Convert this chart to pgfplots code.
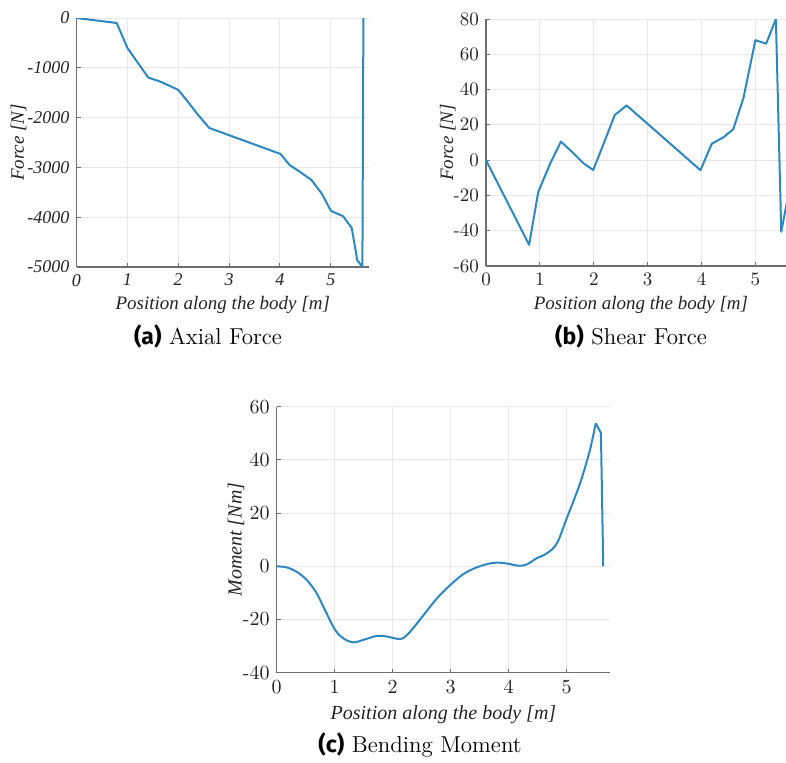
\documentclass[border=0pt]{standalone}
\usepackage{pgfplots}
\pgfplotsset{compat=1.18}
\usepackage{fontspec}
\newfontfamily\tnr{Liberation Serif}
\newfontfamily\capsf{Fira Sans}
\definecolor{lineblue}{RGB}{45,135,192}
\definecolor{axgray}{RGB}{110,110,110}
\definecolor{gridgray}{RGB}{232,232,232}
\definecolor{txt}{RGB}{35,35,35}

\pgfplotsset{
  body/.style={
    scale only axis, anchor=south west,
    axis lines*=left,
    axis line style={axgray, line width=0.6pt},
    xmin=0, xmax=5.75,
    xtick={0,1,2,3,4,5},
    grid=major,
    grid style={gridgray, line width=0.5pt},
    tick align=inside,
    major tick length=2pt,
    tick style={axgray, line width=0.5pt},
    scaled y ticks=false,
    /pgf/number format/assume math mode=true,
    /pgf/number format/1000 sep={},
    ticklabel style={txt},
    label style={txt},
    xlabel={Position along the body [m]},
    clip=true,
  },
  curve/.style={lineblue, line width=1pt, line join=round, mark=none},
}

\begin{document}
\begin{tikzpicture}
\path[use as bounding box, clip] (0pt,0pt) rectangle (393pt,381pt);

% (a) axial force along the body
\begin{axis}[body,
  at={(38.25pt,247.5pt)}, width=146.25pt, height=124.5pt,
  ymin=-5000, ymax=0, ytick={-5000,-4000,...,0},
  ticklabel style={font=\tnr\itshape\fontsize{9}{10}\selectfont},
  label style={font=\tnr\itshape\fontsize{9.5}{11}\selectfont},
  xlabel style={yshift=2pt},
  ylabel={Force [N]},
  ylabel style={at={(axis description cs:-0.198,0.5)}, anchor=center},
]
\addplot[curve] table {
0     0
0.79  -100
1.00  -600
1.21  -906
1.41  -1195
1.64  -1275
1.83  -1362
2.00  -1443
2.16  -1644
2.39  -1946
2.61  -2208
4.01  -2730
4.19  -2953
4.39  -3087
4.62  -3255
4.82  -3523
5.00  -3872
5.24  -3980
5.41  -4215
5.52  -4866
5.62  -5000
5.64  0
};
\end{axis}

% (b) shear force along the body
\begin{axis}[body,
  at={(243pt,248pt)}, width=154.9pt, height=123.5pt,
  ymin=-60, ymax=80, ytick={-60,-40,...,80},
  ticklabel style={font=\fontsize{9.5}{10}\selectfont},
  label style={font=\tnr\itshape\fontsize{9.5}{11}\selectfont},
  xlabel style={yshift=2pt},
  ylabel={Force [N]},
  ylabel style={at={(axis description cs:-0.123,0.5)}, anchor=center},
]
\addplot[curve] table {
0     0
0.80  -48
0.97  -18
1.19  -2
1.39  10.5
1.62  4
1.81  -1.8
1.99  -5.6
2.21  11.4
2.39  25.6
2.61  31
3.98  -5.7
4.19  9.3
4.41  13
4.59  17.6
4.78  35.5
5.00  68
5.20  66
5.38  80
5.48  -40.6
5.63  -16.5
};
\end{axis}

% (c) bending moment along the body
\begin{axis}[body,
  at={(138.35pt,44.65pt)}, width=166.75pt, height=133pt,
  ymin=-40, ymax=60, ytick={-40,-20,...,60},
  ticklabel style={font=\fontsize{10}{11}\selectfont},
  label style={font=\tnr\itshape\fontsize{10}{12}\selectfont},
  xlabel style={yshift=1pt},
  ylabel={Moment [Nm]},
  ylabel style={at={(axis description cs:-0.122,0.5)}, anchor=center},
]
% smooth part of the moment curve
\addplot[curve, smooth, tension=0.55] table {
0     0
0.17  -0.4
0.34  -2.0
0.52  -5.2
0.69  -10.2
0.86  -17.7
1.01  -24.0
1.15  -27.1
1.32  -28.6
1.49  -27.7
1.72  -26.2
1.90  -26.4
2.04  -27.1
2.16  -27.2
2.30  -24.6
2.53  -18.4
2.76  -12.1
2.99  -7.1
3.22  -2.9
3.45  -0.4
3.68  1.1
3.85  1.35
4.02  0.85
4.17  0.2
4.31  0.7
4.48  3.0
4.66  4.9
4.83  8.6
5.00  18.0
5.23  31.2
5.40  43.7
5.50  53.8
};
% tip of the body
\addplot[curve] table {
5.50  53.8
5.59  50.2
5.63  0
};
\end{axis}

% sub-captions
\node[font=\fontsize{11.5}{13}\selectfont, anchor=base] at (104pt,209pt)
  {{\capsf\bfseries (a)} Axial Force};
\node[font=\fontsize{11.5}{13}\selectfont, anchor=base] at (315.5pt,209pt)
  {{\capsf\bfseries (b)} Shear Force};
\node[font=\fontsize{11.5}{13}\selectfont, anchor=base] at (210pt,5pt)
  {{\capsf\bfseries (c)} Bending Moment};
\end{tikzpicture}
\end{document}
